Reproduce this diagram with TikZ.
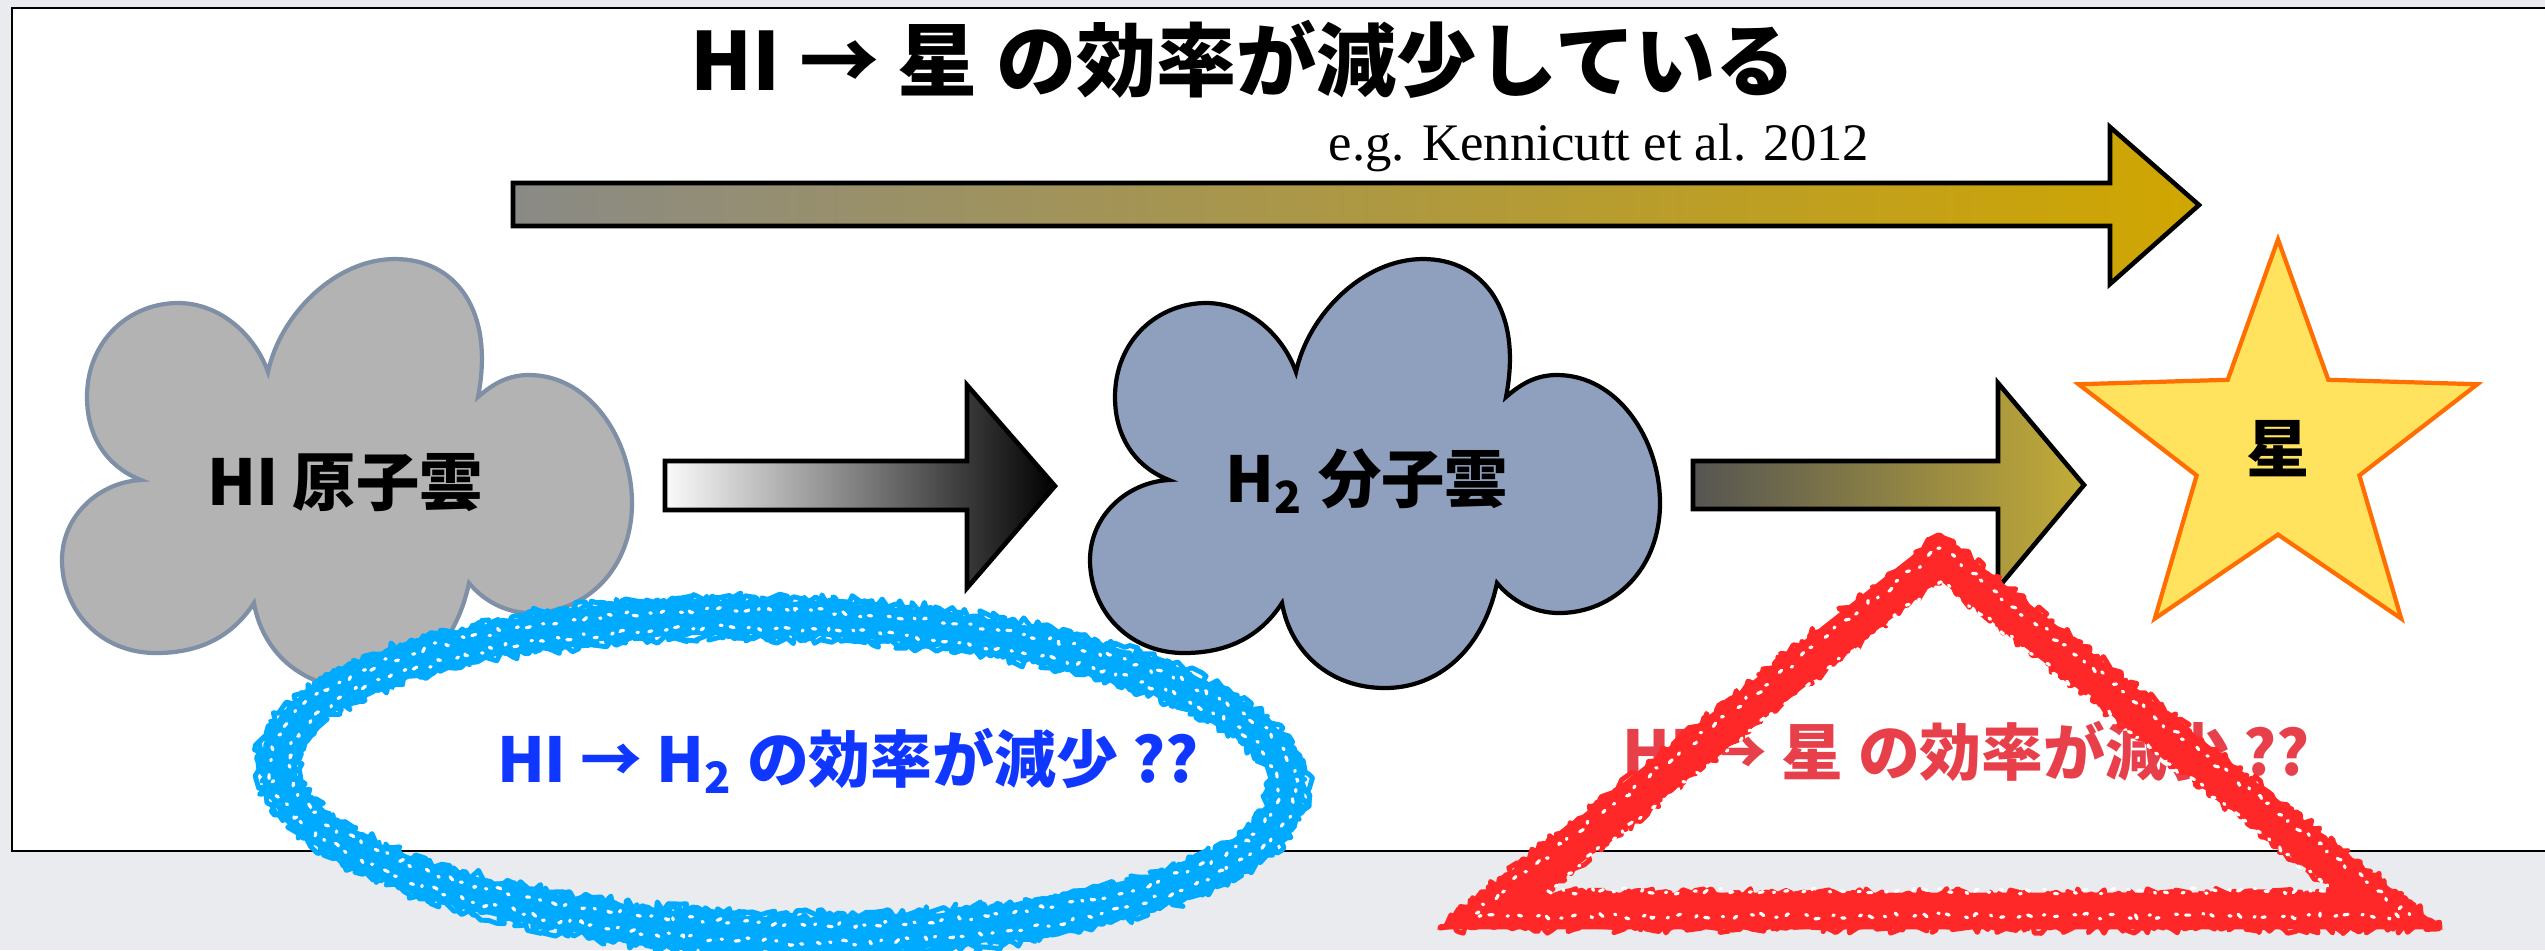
\documentclass[tikz,border=0pt]{standalone}
\usepackage{fontspec}
\setmainfont{Liberation Serif}
\newfontfamily\jpfont{Noto Sans CJK JP}
\usetikzlibrary{shapes.geometric,decorations.pathmorphing}

\definecolor{pagegray}{RGB}{233,235,239}
\definecolor{higray}{RGB}{179,179,179}
\definecolor{hiedge}{RGB}{127,143,166}
\definecolor{htwofill}{RGB}{143,160,190}
\definecolor{starfill}{RGB}{255,227,94}
\definecolor{staredge}{RGB}{255,110,0}
\definecolor{steelgray}{RGB}{138,138,134}
\definecolor{gold}{RGB}{208,166,0}
\definecolor{darkolive}{RGB}{85,85,82}
\definecolor{olivegold}{RGB}{195,172,55}
\definecolor{ringblue}{RGB}{0,170,255}
\definecolor{askblue}{RGB}{15,55,255}
\definecolor{askred}{RGB}{232,64,74}
\definecolor{chalkred}{RGB}{255,40,40}

% outline of a puffy cloud, drawn around the HI label
\newcommand{\cloudpath}{%
  (141,480) .. controls (110,468) and (87,440) .. (87,397)
  .. controls (87,340) and (130,303) .. (178,303)
  .. controls (220,303) and (255,335) .. (268,372)
  .. controls (280,315) and (335,259) .. (395,259)
  .. controls (455,259) and (495,310) .. (478,397)
  .. controls (495,382) and (510,375) .. (529,375)
  .. controls (590,375) and (632,440) .. (632,503)
  .. controls (632,570) and (585,613) .. (531,613)
  .. controls (505,613) and (483,600) .. (469,583)
  .. controls (455,650) and (410,688) .. (357,688)
  .. controls (300,688) and (262,650) .. (254,603)
  .. controls (230,640) and (195,653) .. (156,653)
  .. controls (100,653) and (62,610) .. (62,560)
  .. controls (62,515) and (100,482) .. (141,480) -- cycle}

\tikzset{
  headline/.style={font=\jpfont\bfseries\fontsize{22.8}{26}\selectfont, anchor=base},
  refnote/.style={font=\fontsize{15}{17}\selectfont, anchor=base west, inner sep=0pt},
  cloudlabel/.style={font=\jpfont\bfseries\fontsize{18}{20}\selectfont, anchor=base},
  question/.style={font=\jpfont\bfseries\fontsize{17.6}{20}\selectfont, anchor=base},
  fatarrow/.style={draw=black, line width=1.3pt, line join=miter},
  chalky/.style={decorate, line join=round, line cap=round,
    decoration={random steps, segment length=1.4pt, amplitude=#1}},
  fringe/.style={line width=1.4pt, chalky=1.6pt},
  speckle/.style={white, line width=0.9pt, chalky=0.9pt,
    dash pattern=on 0.6pt off 2.3pt on 1.2pt off 4.1pt on 0.4pt off 3pt on 0.9pt off 5pt},
}

\begin{document}
\begin{tikzpicture}[x=0.01cm, y=-0.01cm]
  \pgfmathsetseed{11}
  \useasboundingbox (0,0) rectangle (2545,950);
  \fill[pagegray] (0,0) rectangle (2545,950);
  \draw[fill=white, line width=0.8pt] (12,8) rectangle (2600,851);

  % headline and reference
  \node[headline] (head) at (1243,90) {HI → 星 の効率が減少している};
  \node[refnote] (ref) at (1328,160) {e.g. Kennicutt et al. 2012};

  % long arrow: HI straight to stars
  \draw[fatarrow, left color=steelgray, right color=gold]
    (513,183) -- (2110,183) -- (2110,127) -- (2199,205) -- (2110,284)
    -- (2110,226) -- (513,226) -- cycle;

  % clouds
  \draw[fill=higray, draw=hiedge, line width=1.2pt] \cloudpath;
  \draw[fill=htwofill, draw=black, line width=1.2pt, shift={(1028,0)}] \cloudpath;
  \node[cloudlabel] (hi) at (345,505) {HI 原子雲};
  \node[cloudlabel] (htwo) at (1367,502) {H\textsubscript{2} 分子雲};

  % step arrows
  \draw[fatarrow, left color=white!97!gray, right color=black]
    (665,461) -- (967,461) -- (967,385) -- (1055,486) -- (967,588)
    -- (967,510) -- (665,510) -- cycle;
  \draw[fatarrow, left color=darkolive, right color=olivegold]
    (1693,461) -- (1998,461) -- (1998,383) -- (2084,485) -- (1998,588)
    -- (1998,509) -- (1693,509) -- cycle;

  % star
  \node[star, star points=5, star point ratio=2.45, minimum size=4.19cm,
        inner sep=0pt, fill=starfill, draw=staredge, line width=1.2pt,
        font=\jpfont\bfseries\fontsize{18}{20}\selectfont] (star) at (2278,449) {星};

  % open questions
  \node[question, text=askblue] (askh2) at (848,782) {HI → H\textsubscript{2} の効率が減少 ??};
  \node[question, text=askred] (askstar) at (1966,775) {HI → 星 の効率が減少 ??};

  % blue chalk ring
  \begin{scope}[rotate around={-1.5:(783,776)}]
    \draw[ringblue, line width=9.5pt] (783,776) ellipse [x radius=505, y radius=158];
    \foreach \dr in {14,17,20}
      \draw[ringblue, fringe] (783,776) ellipse [x radius=505+\dr, y radius=158+\dr];
    \foreach \dr in {14,17,20}
      \draw[ringblue, fringe] (783,776) ellipse [x radius=505-\dr, y radius=158-\dr];
    \draw[speckle] (783,776) ellipse [x radius=495, y radius=148];
    \draw[speckle] (783,776) ellipse [x radius=513, y radius=166];
  \end{scope}

  % red chalk triangle
  \coordinate (apex) at (1940,557);
  \coordinate (baseleft) at (1490,911);
  \coordinate (baseright) at (2390,911);
  \draw[chalkred, line width=10.5pt, line join=miter]
    (apex) -- (baseleft) -- (baseright) -- cycle;
  \draw[chalkred, fringe] (1940,535) -- (1440,928) -- (2440,928) -- cycle;
  \draw[chalkred, fringe] (1940,540) -- (1448,924) -- (2432,924) -- cycle;
  \draw[chalkred, fringe] (1940,578) -- (1540,894) -- (2340,894) -- cycle;
  \draw[chalkred, fringe] (1940,573) -- (1532,897) -- (2348,897) -- cycle;
  \draw[speckle] (1940,582) -- (1548,891) -- (2332,891) -- cycle;
  \draw[speckle] (1940,548) -- (1470,916) -- (2410,916) -- cycle;
\end{tikzpicture}
\end{document}
